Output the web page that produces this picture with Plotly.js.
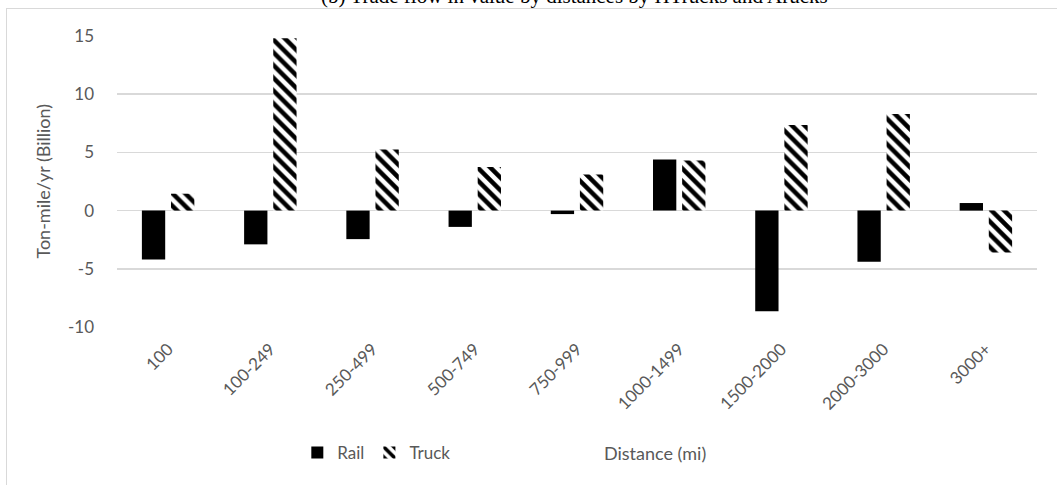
<!DOCTYPE html>
<html>
<head>
<meta charset="utf-8">
<script src="https://cdn.plot.ly/plotly-3.0.1.min.js"></script>
<style>
  html, body { margin: 0; padding: 0; background: #fff; }
  #wrap { position: relative; width: 1057px; height: 485px; overflow: hidden; }
  #chart { width: 1057px; height: 485px; }
  #frame { position: absolute; left: 6px; top: 8px; width: 1100px; height: 600px;
           border-left: 1.5px solid #d9d9d9; border-top: 1.5px solid #d9d9d9; pointer-events: none; }
</style>
</head>
<body>
<div id="wrap">
  <div id="chart"></div>
  <div id="frame"></div>
</div>
<script>
const categories = ["100", "100-249", "250-499", "500-749", "750-999", "1000-1499", "1500-2000", "2000-3000", "3000+"];
const railValues = [-4.2, -2.9, -2.45, -1.4, -0.3, 4.4, -8.65, -4.4, 0.65];
const truckValues = [1.45, 14.8, 5.25, 3.75, 3.1, 4.3, 7.35, 8.3, -3.6];
const yTicks = [-10, -5, 0, 5, 10, 15];
const seriesNames = ["Rail", "Truck"];
const chartTitle = "(b) Trade flow in value by distances by HTrucks and Arucks";
const yTitle = "Ton-mile/yr (Billion)";
const xTitle = "Distance (mi)";

const gray = "#595959";
const font = "Lato, 'Open Sans', sans-serif";

const traces = [
  {
    type: "bar", name: seriesNames[0], x: categories, y: railValues,
    marker: { color: "#000000", line: { width: 0 } },
    hoverinfo: "skip"
  },
  {
    type: "bar", name: seriesNames[1], x: categories, y: truckValues,
    marker: {
      color: "#ffffff", line: { width: 0 },
      pattern: { shape: "\\", fgcolor: "#000000", bgcolor: "#ffffff", size: 9, solidity: 0.5, fillmode: "replace" }
    },
    hoverinfo: "skip"
  }
];

const layout = {
  width: 1057, height: 485,
  margin: { l: 117, r: 20, t: 36, b: 158 },
  paper_bgcolor: "rgba(0,0,0,0)",
  plot_bgcolor: "#ffffff",
  barmode: "group",
  bargap: 0.43,
  bargroupgap: 0.2,
  font: { family: font, color: gray, size: 16 },
  showlegend: true,
  legend: {
    orientation: "h", x: 0.196, xanchor: "left", y: -0.433, yanchor: "middle",
    font: { family: font, size: 17, color: gray },
    itemwidth: 30, tracegroupgap: 0, bgcolor: "rgba(0,0,0,0)"
  },
  xaxis: {
    type: "category",
    tickangle: -45,
    tickfont: { family: font, size: 17, color: gray },
    showgrid: false, showline: false, zeroline: false,
    ticks: "", ticklabelstandoff: 8,
    fixedrange: true
  },
  yaxis: {
    range: [-10, 15],
    tickvals: yTicks,
    ticktext: yTicks.map(String),
    tickfont: { family: font, size: 17, color: gray },
    showgrid: true, gridcolor: "#d9d9d9", gridwidth: 1.5,
    zeroline: true, zerolinecolor: "#d9d9d9", zerolinewidth: 1.5,
    showline: false, ticks: "", ticklabelstandoff: 22,
    fixedrange: true
  },
  annotations: [
    {
      text: chartTitle, xref: "paper", yref: "paper", x: 0.497, y: 1.088,
      xanchor: "center", yanchor: "bottom", showarrow: false,
      font: { family: "'Liberation Serif', 'DejaVu Serif', serif", size: 21, color: "#000000" }
    },
    {
      text: yTitle, xref: "paper", yref: "paper", x: -0.0815, y: 0.5,
      xanchor: "center", yanchor: "middle", textangle: -90, showarrow: false,
      font: { family: font, size: 18, color: gray }
    },
    {
      text: xTitle, xref: "paper", yref: "paper", x: 0.585, y: -0.433,
      xanchor: "center", yanchor: "middle", showarrow: false,
      font: { family: font, size: 18, color: gray }
    }
  ]
};

Plotly.newPlot("chart", traces, layout, { displayModeBar: false, staticPlot: true });
</script>
</body>
</html>
